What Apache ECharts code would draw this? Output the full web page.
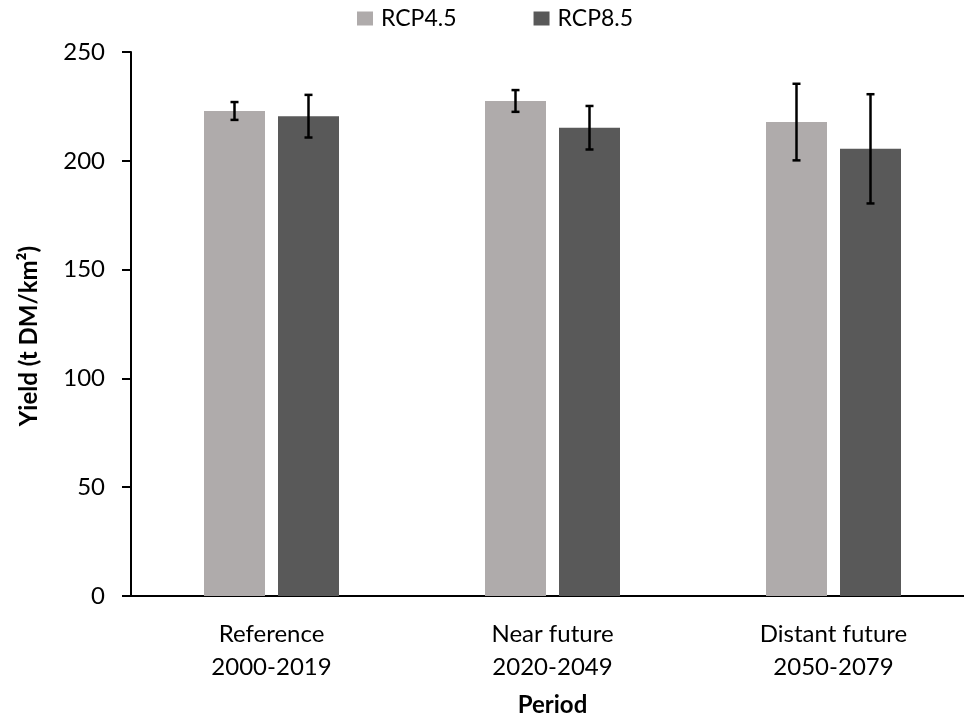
<!DOCTYPE html>
<html>
<head>
<meta charset="utf-8">
<script src="https://cdn.jsdelivr.net/npm/echarts@6/dist/echarts.min.js"></script>
<style>
  html, body { margin: 0; padding: 0; background: #fff; }
  #chart { width: 964px; height: 719px; }
</style>
</head>
<body>
<div id="chart"></div>
<script>
// Periods on the x axis
const periods = ['Reference\n2000-2019', 'Near future\n2020-2049', 'Distant future\n2050-2079'];
// Mean yield per period (t DM/km²)
const rcp45 = [222.9, 227.5, 217.8];
const rcp85 = [220.5, 215.2, 205.5];
// Error bar half-widths
const rcp45Err = [4.1, 5.0, 17.6];
const rcp85Err = [9.8, 10.0, 25.1];
// Y-axis ticks
const yMin = 0, yMax = 250, yStep = 50;

const FONT = 'Lato';
const BAR_W = 61;
const BAR_GAP = 13;
const SHIFT = (BAR_W + BAR_GAP) / 2;

function errorSeries(name, means, errs, dir) {
  return {
    type: 'custom',
    name: name + ' error',
    z: 10,
    silent: true,
    data: means.map((m, i) => [i, m - errs[i], m + errs[i]]),
    renderItem: function (params, api) {
      const lo = api.coord([api.value(0), api.value(1)]);
      const hi = api.coord([api.value(0), api.value(2)]);
      const x = lo[0] + dir * SHIFT;
      const cap = 4;
      const style = { stroke: '#000', lineWidth: 2.5 };
      return {
        type: 'group',
        children: [
          { type: 'line', shape: { x1: x, y1: lo[1], x2: x, y2: hi[1] }, style: style },
          { type: 'line', shape: { x1: x - cap, y1: lo[1], x2: x + cap, y2: lo[1] }, style: style },
          { type: 'line', shape: { x1: x - cap, y1: hi[1], x2: x + cap, y2: hi[1] }, style: style }
        ]
      };
    }
  };
}

const chart = echarts.init(document.getElementById('chart'), null, { renderer: 'canvas' });
chart.setOption({
  animation: false,
  textStyle: { fontFamily: FONT },
  legend: {
    data: ['RCP4.5', 'RCP8.5'],
    top: 7,
    left: 357,
    padding: 0,
    itemWidth: 16,
    itemHeight: 14,
    itemGap: 77,
    icon: 'rect',
    textStyle: { fontFamily: FONT, fontSize: 23, color: '#000', padding: [0, 0, 0, 3] }
  },
  grid: { left: 131, top: 52, width: 843, height: 544, containLabel: false, outerBoundsMode: 'none' },
  xAxis: {
    type: 'category',
    data: periods,
    name: 'Period',
    nameLocation: 'middle',
    nameGap: 97,
    nameTextStyle: { fontFamily: FONT, fontSize: 24, fontWeight: 'bold', color: '#000' },
    axisLine: { lineStyle: { color: '#000', width: 2 } },
    axisTick: { show: false },
    axisLabel: { fontFamily: FONT, fontSize: 24, color: '#000', lineHeight: 33, margin: 22, interval: 0 }
  },
  yAxis: {
    type: 'value',
    min: yMin,
    max: yMax,
    interval: yStep,
    name: 'Yield (t DM/km²)',
    nameLocation: 'middle',
    nameGap: 90,
    nameTextStyle: { fontFamily: FONT, fontSize: 24, fontWeight: 'bold', color: '#000', padding: [0, 24, 0, 0] },
    axisLine: { show: true, lineStyle: { color: '#000', width: 2 } },
    axisTick: { show: true, length: 9, lineStyle: { color: '#000', width: 2 } },
    splitLine: { show: false },
    axisLabel: { fontFamily: FONT, fontSize: 24, color: '#000', margin: 26 }
  },
  series: [
    { name: 'RCP4.5', type: 'bar', data: rcp45, barWidth: BAR_W, barGap: (BAR_GAP / BAR_W * 100) + '%', itemStyle: { color: '#AFABAB' } },
    { name: 'RCP8.5', type: 'bar', data: rcp85, barWidth: BAR_W, itemStyle: { color: '#595959' } },
    errorSeries('RCP4.5', rcp45, rcp45Err, -1),
    errorSeries('RCP8.5', rcp85, rcp85Err, 1)
  ]
});
</script>
</body>
</html>
